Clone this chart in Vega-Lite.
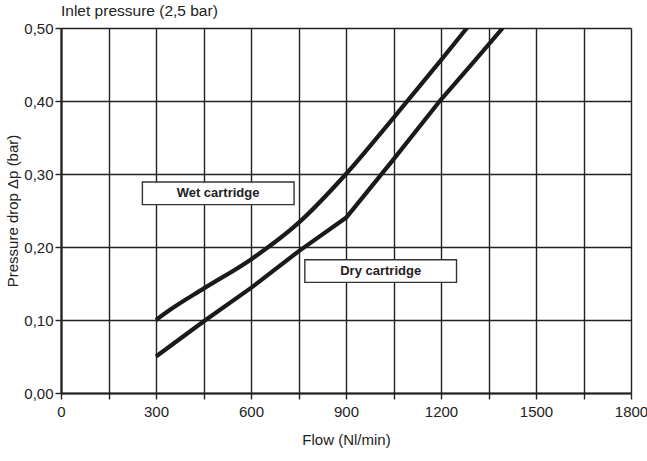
{
  "$schema": "https://vega.github.io/schema/vega-lite/v6.json",
  "width": 570,
  "height": 365,
  "autosize": {"type": "none"},
  "padding": {"left": 61, "top": 28, "right": 16, "bottom": 68},
  "background": "white",
  "title": {
    "text": "Inlet pressure (2,5 bar)",
    "anchor": "start",
    "frame": "group",
    "orient": "top",
    "offset": 2,
    "font": "Liberation Sans",
    "fontSize": 15.5,
    "fontWeight": "normal",
    "color": "#222"
  },
  "config": {
    "view": {"stroke": null},
    "axis": {
      "labelFont": "Liberation Sans",
      "titleFont": "Liberation Sans",
      "labelFontSize": 15,
      "titleFontSize": 15,
      "titleFontWeight": "normal",
      "labelColor": "#222",
      "titleColor": "#222",
      "gridColor": "#222",
      "gridWidth": 1.4,
      "gridOpacity": 1,
      "tickColor": "#222",
      "tickWidth": 1.4,
      "tickSize": 6,
      "domainColor": "#222",
      "domainWidth": 2.2
    }
  },
  "datasets": {
    "wet": [
      {"series": "Wet cartridge", "flow": 300, "dp": 0.100},
      {"series": "Wet cartridge", "flow": 341, "dp": 0.113},
      {"series": "Wet cartridge", "flow": 450, "dp": 0.143},
      {"series": "Wet cartridge", "flow": 600, "dp": 0.183},
      {"series": "Wet cartridge", "flow": 750, "dp": 0.233},
      {"series": "Wet cartridge", "flow": 900, "dp": 0.300},
      {"series": "Wet cartridge", "flow": 1050, "dp": 0.377},
      {"series": "Wet cartridge", "flow": 1200, "dp": 0.456},
      {"series": "Wet cartridge", "flow": 1282, "dp": 0.500}
    ],
    "dry": [
      {"series": "Dry cartridge", "flow": 300, "dp": 0.050},
      {"series": "Dry cartridge", "flow": 450, "dp": 0.098},
      {"series": "Dry cartridge", "flow": 600, "dp": 0.144},
      {"series": "Dry cartridge", "flow": 750, "dp": 0.194},
      {"series": "Dry cartridge", "flow": 900, "dp": 0.240},
      {"series": "Dry cartridge", "flow": 1050, "dp": 0.320},
      {"series": "Dry cartridge", "flow": 1200, "dp": 0.402},
      {"series": "Dry cartridge", "flow": 1300, "dp": 0.452},
      {"series": "Dry cartridge", "flow": 1395, "dp": 0.500}
    ],
    "labels": [
      {"label": "Wet cartridge", "x1": 257, "x2": 736, "y1": 0.258, "y2": 0.289, "xm": 496, "ym": 0.2735},
      {"label": "Dry cartridge", "x1": 770, "x2": 1249, "y1": 0.1515, "y2": 0.1826, "xm": 1009.5, "ym": 0.167}
    ]
  },
  "layer": [
    {
      "data": {"name": "wet"},
      "mark": {"type": "line", "color": "#1a1a1a", "strokeWidth": 4.2, "strokeCap": "butt", "strokeJoin": "round", "interpolate": "monotone", "clip": true},
      "encoding": {
        "x": {
          "field": "flow", "type": "quantitative",
          "scale": {"domain": [0, 1800], "nice": false, "zero": false},
          "axis": {
            "title": "Flow (Nl/min)",
            "format": "d",
            "values": [0, 150, 300, 450, 600, 750, 900, 1050, 1200, 1350, 1500, 1650, 1800],
            "labelExpr": "datum.value % 300 == 0 ? datum.label : ''",
            "labelPadding": 5,
            "titlePadding": 13,
            "labelFlush": false,
            "labelOverlap": false
          }
        },
        "y": {
          "field": "dp", "type": "quantitative",
          "scale": {"domain": [0, 0.5], "nice": false},
          "axis": {
            "title": "Pressure drop Δp (bar)",
            "values": [0, 0.1, 0.2, 0.3, 0.4, 0.5],
            "labelExpr": "replace(format(datum.value, '.2f'), '.', ',')",
            "labelPadding": 2,
            "titlePadding": 3,
            "labelFlush": false,
            "labelOverlap": false
          }
        },
        "order": {"field": "flow", "type": "quantitative"}
      }
    },
    {
      "data": {"name": "dry"},
      "mark": {"type": "line", "color": "#1a1a1a", "strokeWidth": 4.2, "strokeCap": "butt", "strokeJoin": "round", "clip": true},
      "encoding": {
        "x": {"field": "flow", "type": "quantitative"},
        "y": {"field": "dp", "type": "quantitative"},
        "order": {"field": "flow", "type": "quantitative"}
      }
    },
    {
      "data": {"name": "labels"},
      "mark": {"type": "rect", "fill": "white", "stroke": "#333", "strokeWidth": 1.4},
      "encoding": {
        "x": {"field": "x1", "type": "quantitative"},
        "x2": {"field": "x2"},
        "y": {"field": "y1", "type": "quantitative"},
        "y2": {"field": "y2"}
      }
    },
    {
      "data": {"name": "labels"},
      "mark": {"type": "text", "font": "Liberation Sans", "fontSize": 13, "fontWeight": "bold", "color": "#222", "align": "center", "baseline": "middle"},
      "encoding": {
        "x": {"field": "xm", "type": "quantitative"},
        "y": {"field": "ym", "type": "quantitative"},
        "text": {"field": "label"}
      }
    }
  ]
}
